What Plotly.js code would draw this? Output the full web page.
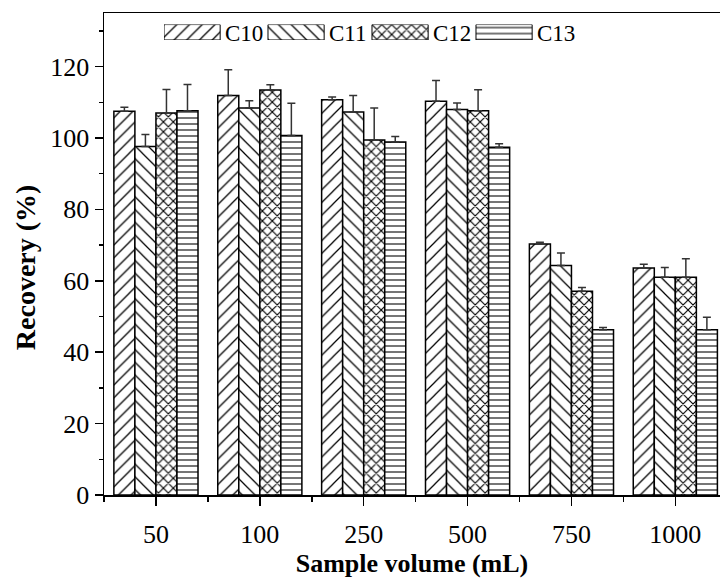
<!DOCTYPE html>
<html>
<head>
<meta charset="utf-8">
<script src="https://cdn.plot.ly/plotly-3.0.1.min.js"></script>
<style>html,body{margin:0;padding:0;background:#fff;}#chart{width:720px;height:581px;}</style>
</head>
<body>
<div id="chart"></div>
<script>
// Data
var categories = ['50', '100', '250', '500', '750', '1000'];
var seriesNames = ['C10', 'C11', 'C12', 'C13'];
var C10 = [107.5, 111.9, 110.7, 110.3, 70.3, 63.6];
var C11 = [97.6, 108.4, 107.3, 108.0, 64.3, 61.0];
var C12 = [107.0, 113.4, 99.4, 107.6, 57.1, 61.0];
var C13 = [107.6, 100.7, 98.9, 97.4, 46.3, 46.3];
var C10err = [1.1, 7.2, 0.8, 5.8, 0.5, 1.0];
var C11err = [3.4, 2.0, 4.6, 1.8, 3.5, 2.7];
var C12err = [6.6, 1.5, 9.0, 5.9, 1.0, 5.2];
var C13err = [7.4, 9.0, 1.5, 1.0, 0.6, 3.5];

var values = [C10, C11, C12, C13];
var errors = [C10err, C11err, C12err, C13err];
var shapes = ['/', '\\', 'x', '-'];
var sizes = [9, 9, 7, 6];
var solid = [0.14, 0.14, 0.3, 0.18];

var FONT = "'Liberation Serif', 'Times New Roman', Times, serif";
var xIdx = categories.map(function (c, i) { return i; });

var traces = [];
values.forEach(function (v, k) {
  traces.push({
    type: 'bar',
    name: seriesNames[k],
    x: xIdx,
    y: v,
    showlegend: false,
    marker: {
      color: 'white',
      line: {color: 'black', width: 1.5},
      pattern: {shape: shapes[k], size: sizes[k], solidity: solid[k], fgcolor: 'black', bgcolor: 'white', fillmode: 'replace'}
    },
    error_y: {type: 'data', array: errors[k], arrayminus: errors[k].map(function () { return 0; }), symmetric: false,
              color: '#333', thickness: 1.5, width: 4}
  });
  // legend swatch drawn on an auxiliary axis
  traces.push({
    type: 'bar',
    x: [k + 0.27],
    y: [1],
    width: [0.54],
    xaxis: 'x2', yaxis: 'y2',
    showlegend: false,
    hoverinfo: 'skip',
    marker: {
      color: 'white',
      line: {color: 'black', width: 1},
      pattern: {shape: shapes[k], size: sizes[k], solidity: solid[k], fgcolor: 'black', bgcolor: 'white', fillmode: 'replace'}
    }
  });
});

var annotations = seriesNames.map(function (n, k) {
  return {text: n, x: k + 0.565, y: 0.45, xref: 'x2', yref: 'y2', xanchor: 'left', yanchor: 'middle',
          showarrow: false, font: {family: FONT, size: 23, color: 'black'}};
});
annotations.push({
  text: '<b>Recovery (%)</b>', textangle: -90, xref: 'paper', yref: 'paper',
  x: -0.128, y: 0.473, xanchor: 'center', yanchor: 'middle', showarrow: false,
  font: {family: FONT, size: 28, color: 'black'}
});

var layout = {
  width: 720, height: 581,
  margin: {l: 104, r: 0, t: 13, b: 86},
  paper_bgcolor: 'white', plot_bgcolor: 'white',
  barmode: 'group', bargap: 0.19, bargroupgap: 0,
  showlegend: false,
  font: {family: FONT, color: 'black'},
  xaxis: {
    range: [-0.5, 5.43],
    tickmode: 'array', tickvals: xIdx, ticktext: categories,
    ticks: 'outside', ticklen: 9, tickwidth: 1.5, tickcolor: 'black',
    minor: {tick0: 0.5, dtick: 1, ticks: 'outside', ticklen: 5, tickwidth: 1.5, tickcolor: 'black'},
    showline: true, linewidth: 1.5, linecolor: 'black', mirror: true,
    showgrid: false, zeroline: false,
    tickfont: {family: FONT, size: 26, color: 'black'},
    ticklabelstandoff: 6,
    title: {text: '<b>Sample volume (mL)</b>', font: {family: FONT, size: 26, color: 'black'}, standoff: 2}
  },
  yaxis: {
    range: [0, 135],
    tickmode: 'linear', tick0: 0, dtick: 20,
    ticks: 'outside', ticklen: 8, tickwidth: 1.5, tickcolor: 'black',
    minor: {dtick: 10, ticks: 'outside', ticklen: 4, tickwidth: 1.5, tickcolor: 'black'},
    showline: true, linewidth: 1.5, linecolor: 'black',
    showgrid: false, zeroline: false,
    tickfont: {family: FONT, size: 26, color: 'black'}
  },
  xaxis2: {domain: [0.0974, 0.7727], range: [0, 4], visible: false, fixedrange: true},
  yaxis2: {domain: [0.944, 0.976], range: [0, 1], visible: false, fixedrange: true},
  annotations: annotations
};

Plotly.newPlot('chart', traces, layout, {displayModeBar: false, staticPlot: true});
</script>
</body>
</html>
